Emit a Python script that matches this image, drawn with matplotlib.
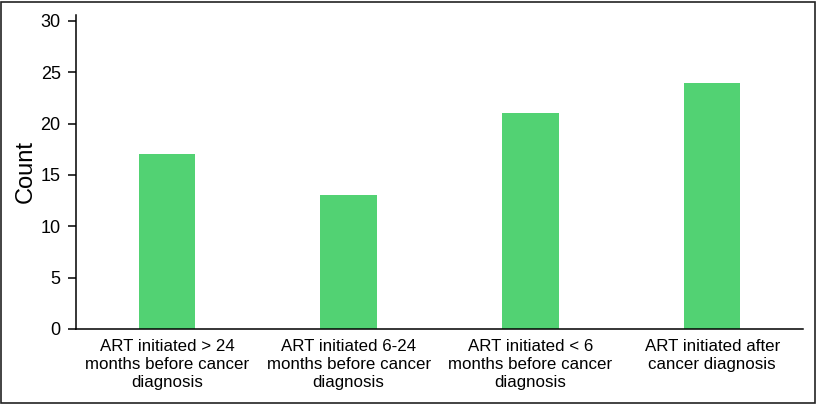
import matplotlib
matplotlib.use('Agg')
import matplotlib.pyplot as plt
from matplotlib.patches import Rectangle

# Patient counts by timing of ART initiation
categories = [
    'ART initiated > 24\nmonths before cancer\ndiagnosis',
    'ART initiated 6-24\nmonths before cancer\ndiagnosis',
    'ART initiated < 6\nmonths before cancer\ndiagnosis',
    'ART initiated after\ncancer diagnosis',
]
counts = [17, 13, 21, 24]
yticks = [0, 5, 10, 15, 20, 25, 30]

plt.rcParams['font.family'] = ['Liberation Sans', 'DejaVu Sans']

fig = plt.figure(figsize=(8.19, 4.05), dpi=100)
ax = fig.add_axes([0.0928, 0.1877, 0.8877, 0.7753])

x = range(len(categories))
ax.bar(x, counts, width=0.31, color='#52D273')

ax.set_xlim(-0.5, 3.5)
ax.set_ylim(0, 30.58)
ax.set_yticks(yticks)
ax.set_xticks(list(x))
ax.set_xticklabels(categories, fontsize=12.2, linespacing=1.25)
ax.tick_params(axis='x', length=0, pad=7)
ax.tick_params(axis='y', labelsize=13, length=6, width=1.1, pad=5)

ax.set_ylabel('Count', fontsize=17, labelpad=3)

for side in ['top', 'right']:
    ax.spines[side].set_visible(False)
for side in ['left', 'bottom']:
    ax.spines[side].set_linewidth(1.1)

# frame around the whole figure
fig.patches.append(Rectangle((1 / 819, 2 / 405), 814 / 819, 401 / 405,
                             transform=fig.transFigure, fill=False,
                             edgecolor='#222222', linewidth=1.2))

fig.savefig('out.png', dpi=100)
